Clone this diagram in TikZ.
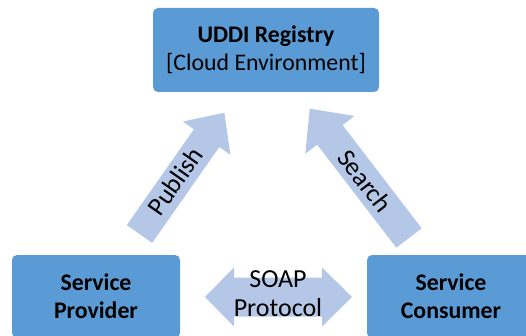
\documentclass[tikz,border=0pt]{standalone}
\usepackage{fontspec}
\setmainfont{Carlito}
\definecolor{boxblue}{HTML}{5B9BD5}
\definecolor{arrowblue}{HTML}{B4C7E7}
\tikzset{
  box/.style={fill=boxblue, rounded corners=5pt, align=center, text=black,
    inner sep=0pt, font=\fontsize{23.8}{27.8}\selectfont},
  arrowlabel/.style={text=black, inner sep=0pt, align=center,
    font=\fontsize{26}{29}\selectfont},
  blockarrow/.style={fill=arrowblue, draw=none}
}
% block arrow: tail point, angle, length, shaft width, head width, head length
\newcommand{\fatarrow}[6]{%
  \fill[blockarrow, shift={#1}, rotate=#2]
    (0,{-#4/2}) -- ({#3-#6},{-#4/2}) -- ({#3-#6},{-#5/2}) -- (#3,0)
    -- ({#3-#6},{#5/2}) -- ({#3-#6},{#4/2}) -- (0,{#4/2}) -- cycle;}
\begin{document}
\begin{tikzpicture}[x=1pt,y=1pt]
  \clip (0,0) rectangle (526,335);

  % the three parties
  \node[box, minimum width=226pt, minimum height=84pt] (registry) at (266,285)
    {\textbf{UDDI Registry}\\{}[Cloud Environment]};
  \node[box, minimum width=168pt, minimum height=83pt] (provider) at (96,38.5)
    {\textbf{Service}\\\textbf{Provider}};
  \node[box, minimum width=168pt, minimum height=83pt] (consumer) at (451,38.5)
    {\textbf{Service}\\\textbf{Consumer}};

  % publish and search
  \fatarrow{(139.5,101)}{55}{148}{31}{58}{31}
  \fatarrow{(409,97)}{127.5}{163}{32}{62}{33}
  \node[arrowlabel, rotate=55] (publish) at (175,154) {Publish};
  \node[arrowlabel, rotate=-52.5] (search) at (365,154) {Search};

  % SOAP exchange between provider and consumer
  \fill[blockarrow] (205,38) -- (234,67.5) -- (234,57.5) -- (322,57.5)
    -- (322,67.5) -- (352,38) -- (322,8.5) -- (322,18.5) -- (234,18.5)
    -- (234,8.5) -- cycle;
  \node[arrowlabel] (soap) at (278,41.5) {SOAP\\Protocol};
\end{tikzpicture}
\end{document}
